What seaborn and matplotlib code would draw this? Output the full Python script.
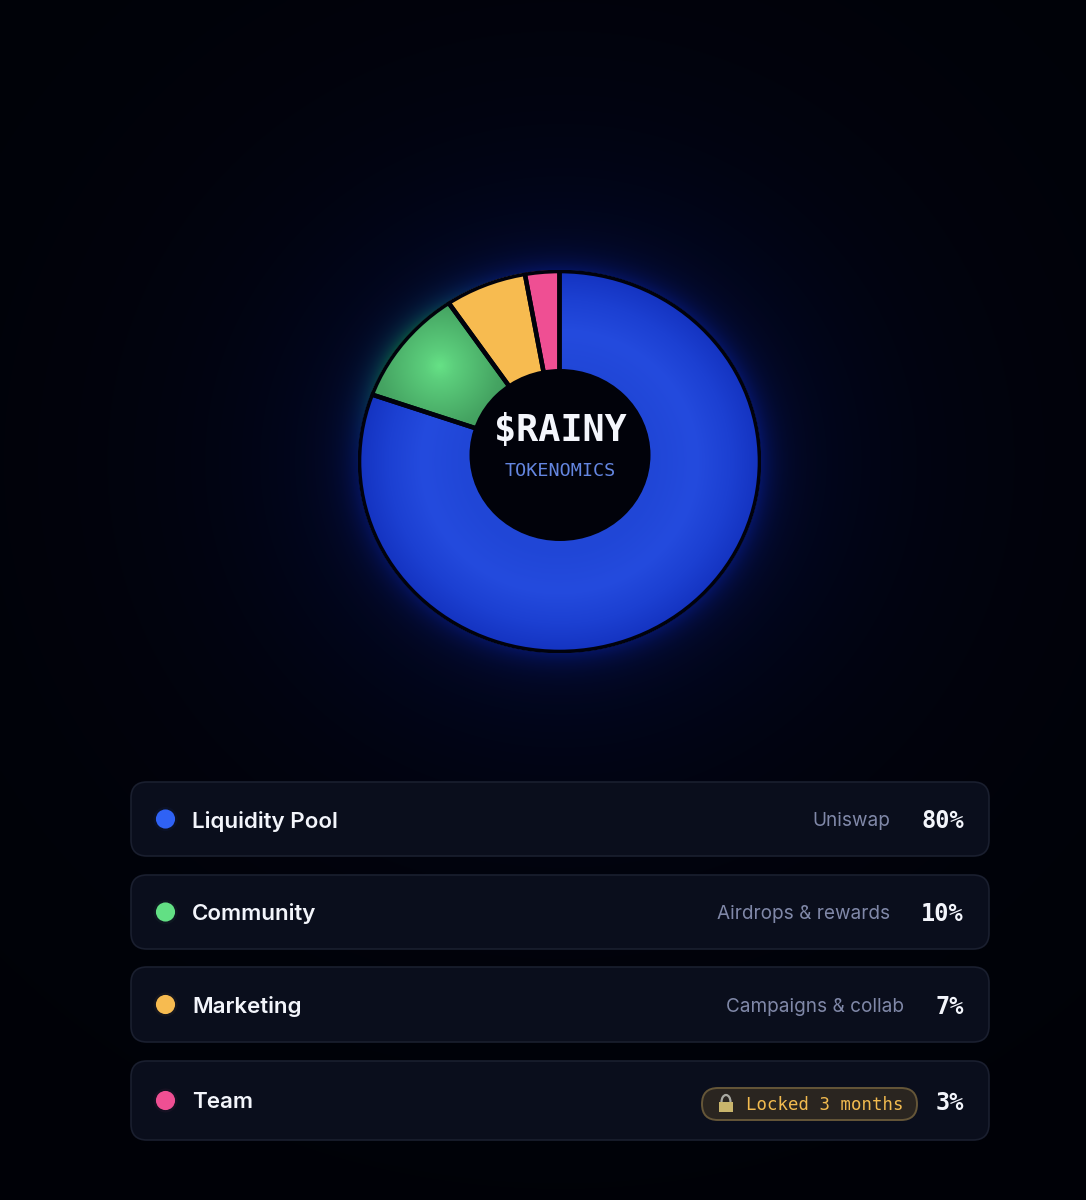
import numpy as np
import pandas as pd
import matplotlib
matplotlib.use('Agg')
import matplotlib.pyplot as plt
from matplotlib.patches import FancyBboxPatch, Ellipse, Rectangle, Arc
import seaborn as sns

categories = ['Liquidity Pool', 'Community', 'Marketing', 'Team']
shares = [80, 10, 7, 3]
notes = ['Uniswap', 'Airdrops & rewards', 'Campaigns & collab', 'Locked 3 months']
pct_labels = ['80%', '10%', '7%', '3%']
colors = ['#2f62f5', '#62e084', '#f7bb50', '#ef4f93']

W, H = 1086, 1200
PIE_BOX = (358, 270, 761, 653)  # left, top, right, bottom in px
ROWS = [(782, 856), (875, 949), (967, 1042), (1061, 1140)]
NOTE_RIGHT = [890, 890, 904, None]

sns.set_theme(style='dark', rc={'axes.facecolor': 'none', 'figure.facecolor': '#01020a'})
plt.rcParams['font.family'] = ['Inter', 'DejaVu Sans']
MONO = ['DejaVu Sans Mono']

fig = plt.figure(figsize=(W / 100, H / 100), dpi=100)

# page background with the glow round the chart
bg = fig.add_axes([0, 0, 1, 1], zorder=0)
yy, xx = np.mgrid[0:H:2, 0:W:2]
d = np.hypot((xx - 560) / 201, (yy - 461) / 191)
out = np.clip(d - 1, 0, None)
blue = 0.22 * np.exp(-out / 0.07) + 0.10 * np.exp(-out / 0.55) + 0.035 * np.exp(-out / 2.0)
phi = np.degrees(np.arctan2(xx - 560, 461 - yy))
green = 0.34 * np.exp(-out / 0.05) * np.exp(-((phi + 54) ** 2) / (2 * 15.0 ** 2))
blue = blue * (1 - np.clip(green * 2.5, 0, 1))
rgb = np.dstack([0.003 + 0.05 * blue + 0.10 * green,
                 0.006 + 0.20 * blue + green,
                 0.022 + blue + 0.45 * green])
bg.imshow(np.clip(rgb, 0, 1), extent=(0, W, H, 0), aspect='auto', interpolation='bilinear')
bg.set_xlim(0, W)
bg.set_ylim(H, 0)
bg.axis('off')

# donut, axes in px from the outer ellipse centre; the slices meet at the hole centre
l, t, r, b = PIE_BOX
rx, ry = (r - l) / 2, (b - t) / 2
ax = fig.add_axes([l / W, 1 - b / H, (r - l) / W, (b - t) / H], zorder=2)
rim_clip = Ellipse((0, 0), 2 * rx, 2 * ry, transform=ax.transData)
fills, _ = ax.pie(shares, colors=colors, startangle=90, counterclock=False, radius=300, center=(0, 6),
                  wedgeprops={'linewidth': 0})
for w in fills:
    w.set_clip_on(True)
    w.set_clip_path(rim_clip)

gy, gx = np.mgrid[ry:-ry:400j, -rx:rx:400j]
radial = np.hypot(gx / rx, gy / ry)
alpha = (radial <= 1).astype(float)
stops = [0.0, 0.45, 0.68, 0.85, 1.0]
blue_map = np.dstack([np.interp(radial, stops, [0x22, 0x20, 0x24, 0x1c, 0x14]),
                      np.interp(radial, stops, [0x48, 0x46, 0x4b, 0x40, 0x33]),
                      np.interp(radial, stops, [0xd8, 0xd6, 0xde, 0xd2, 0xc0]),
                      alpha * 255]) / 255
im = ax.imshow(blue_map, extent=(-rx, rx, -ry, ry), aspect='auto', zorder=2)
im.set_clip_path(fills[0])

gd = np.hypot(gx + 120, gy - 96)
green_map = np.dstack([np.interp(gd, [0, 15, 60, 110], [0x66, 0x5c, 0x45, 0x35]),
                       np.interp(gd, [0, 15, 60, 110], [0xe2, 0xce, 0xa4, 0x8a]),
                       np.interp(gd, [0, 15, 60, 110], [0x86, 0x7c, 0x62, 0x55]),
                       alpha * 255]) / 255
im = ax.imshow(green_map, extent=(-rx, rx, -ry, ry), aspect='auto', zorder=2)
im.set_clip_path(fills[1])

edges, _ = ax.pie(shares, colors=colors, startangle=90, counterclock=False, radius=300, center=(0, 6),
                  wedgeprops={'linewidth': 3.2, 'edgecolor': '#01020c', 'zorder': 3})
for w in edges:
    w.set_facecolor('none')
    w.set_clip_on(True)
    w.set_clip_path(rim_clip)
ax.add_patch(Ellipse((0, 0), 2 * rx - 3, 2 * ry - 3, fc='none', ec='#01020c', lw=2.6, zorder=4))
ax.set_aspect('auto')
ax.set_xlim(-rx, rx)
ax.set_ylim(-ry, ry)
ax.axis('off')

# overlay in pixel coordinates for the hole, the cards and the text
ov = fig.add_axes([0, 0, 1, 1], zorder=3)
ov.set_xlim(0, W)
ov.set_ylim(H, 0)
ov.axis('off')

ov.add_patch(Ellipse((560, 455), 181, 172, fc='#01020a', ec='none'))
ov.text(560, 430, '$RAINY', color='#f4f6fc', family=MONO, weight='bold', fontsize=26.5, ha='center', va='center')
ov.text(560, 471, 'TOKENOMICS', color='#6486e0', family=MONO, fontsize=13.3, ha='center', va='center')

row_mid = [(a + c) / 2 for a, c in ROWS]
for (top, bottom) in ROWS:
    ov.add_patch(FancyBboxPatch((131 + 16, top + 16), 858 - 32, bottom - top - 32,
                                boxstyle='round,pad=16,rounding_size=16', fc='#0a0e1c', ec='#1a1f2f', lw=1.2))

# dots, thin halo is enough here
dots = pd.DataFrame({'x': [165.5] * 4, 'y': row_mid, 'name': categories})
sns.scatterplot(data=dots, x='x', y='y', hue='name', palette=colors, s=300, alpha=0.05,
                linewidth=0, edgecolor='none', legend=False, ax=ov, zorder=4)
sns.scatterplot(data=dots, x='x', y='y', hue='name', palette=colors, s=190,
                linewidth=0, edgecolor='none', legend=False, ax=ov, zorder=5)
ov.set_xlim(0, W)
ov.set_ylim(H, 0)
ov.axis('off')

for i, name in enumerate(categories):
    ov.text(192, row_mid[i] + 2, name, color='#f3f5fb', fontsize=16.1, weight='semibold', ha='left', va='center', zorder=6)
    ov.text(964, row_mid[i] + 2, pct_labels[i], color='#f3f5fb', family=MONO, weight='bold', fontsize=17,
            ha='right', va='center', zorder=6)
    if NOTE_RIGHT[i] is not None:
        ov.text(NOTE_RIGHT[i], row_mid[i] + 2, notes[i], color='#8088a8', fontsize=13.65, ha='right', va='center', zorder=6)

# locked badge on the last row
ov.add_patch(FancyBboxPatch((702 + 16, 1088 + 16), 215 - 32, 0.01,
                            boxstyle='round,pad=16,rounding_size=16', fc='#2a2520', ec='#655638', lw=1.4, zorder=5))
ov.text(903, 1105, notes[3], color='#f2bb4f', family=MONO, fontsize=12.5, ha='right', va='center', zorder=6)
ov.add_patch(Arc((726, 1102), 9, 14, theta1=180, theta2=360, ec='#a9a9a2', lw=1.6, zorder=6))
ov.add_patch(Rectangle((719, 1102), 14, 10, fc='#c9b56c', ec='none', zorder=7))

fig.savefig('out.png', dpi=100, facecolor=fig.get_facecolor())
